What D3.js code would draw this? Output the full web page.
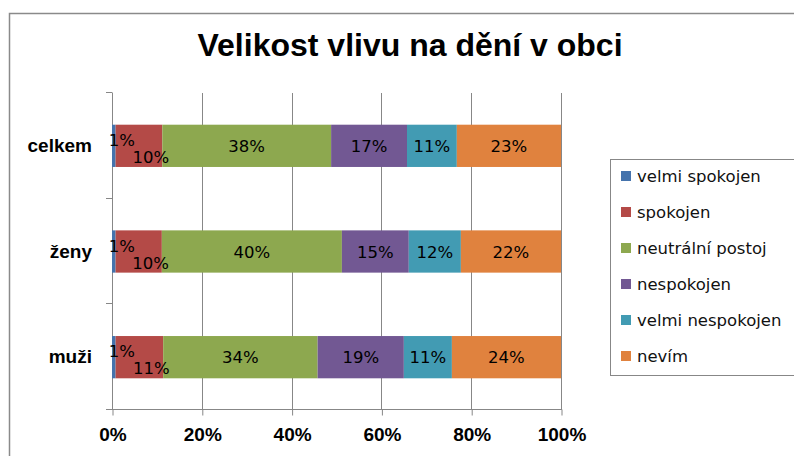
<!DOCTYPE html>
<html>
<head>
<meta charset="utf-8">
<script src="https://cdn.jsdelivr.net/npm/d3@7"></script>
<style>
  html, body { margin: 0; padding: 0; background: #ffffff; }
  svg { display: block; }
</style>
</head>
<body>
<svg id="chart" width="794" height="456"></svg>
<script>
// ---- data ----
const title = "Velikost vlivu na dění v obci";
const categories = ["celkem", "ženy", "muži"];
const seriesNames = ["velmi spokojen", "spokojen", "neutrální postoj", "nespokojen", "velmi nespokojen", "nevím"];
const velmiSpokojen   = [0.8, 0.8, 0.8];
const spokojen        = [10.4, 10.3, 10.6];
const neutralniPostoj = [37.6, 40.1, 34.4];
const nespokojen      = [16.9, 14.9, 19.2];
const velmiNespokojen = [11.1, 11.6, 10.7];
const nevim           = [23.2, 22.3, 24.3];
const tickValues = [0, 20, 40, 60, 80, 100];
const tickLabels = ["0%", "20%", "40%", "60%", "80%", "100%"];
const colors = ["#4573ac", "#b44a47", "#8da84f", "#725893", "#429bb3", "#e0823e"];

const seriesValues = [velmiSpokojen, spokojen, neutralniPostoj, nespokojen, velmiNespokojen, nevim];
const rows = categories.map((c, i) => {
  const r = { category: c };
  seriesNames.forEach((s, j) => { r[s] = seriesValues[j][i]; });
  return r;
});

// ---- layout ----
const svg = d3.select("#chart");
const plot = { left: 112, right: 561, top: 93, bottom: 410 };

const x = d3.scaleLinear().domain([0, 100]).range([plot.left, plot.right]);
const y = d3.scaleBand().domain(categories).range([plot.top, plot.bottom])
  .paddingInner(0.6).paddingOuter(0.3);

const gridColor = "#878787";

// outer chart border
svg.append("rect")
  .attr("x", 9.5).attr("y", 13.5).attr("width", 800).attr("height", 460)
  .attr("fill", "none").attr("stroke", "#8a8a8a").attr("stroke-width", 1.5);

// title
svg.append("text")
  .attr("x", 410).attr("y", 56)
  .attr("text-anchor", "middle")
  .attr("font-family", "'Liberation Sans', Arial, sans-serif")
  .attr("font-weight", "bold").attr("font-size", 32)
  .attr("fill", "#000")
  .text(title);

// vertical gridlines
svg.append("g").selectAll("line")
  .data(tickValues.slice(1))
  .join("line")
  .attr("x1", d => Math.round(x(d)) + 0.5).attr("x2", d => Math.round(x(d)) + 0.5)
  .attr("y1", plot.top).attr("y2", plot.bottom)
  .attr("stroke", gridColor).attr("stroke-width", 1);

// x axis
const xAxis = d3.axisBottom(x).tickValues(tickValues)
  .tickFormat((d, i) => tickLabels[i]).tickSize(6).tickSizeOuter(0).tickPadding(12);
const gx = svg.append("g").attr("transform", `translate(0.5,${plot.bottom - 0.5})`).call(xAxis);
gx.select(".domain").attr("stroke", gridColor).attr("d", `M${plot.left - 6.5},0H${plot.right}`);
gx.selectAll(".tick line").attr("stroke", gridColor);
gx.selectAll(".tick text")
  .attr("font-family", "'Liberation Sans', Arial, sans-serif")
  .attr("font-weight", "bold").attr("font-size", 19).attr("fill", "#000");

// y axis line + ticks at category boundaries
svg.append("line")
  .attr("x1", plot.left + 0.5).attr("x2", plot.left + 0.5)
  .attr("y1", plot.top).attr("y2", plot.bottom)
  .attr("stroke", gridColor);
const boundaries = [plot.top].concat(categories.map(c => y(c) + y.bandwidth() + y.step() * y.paddingInner() / 2));
boundaries[boundaries.length - 1] = plot.bottom;
svg.append("g").selectAll("line")
  .data(boundaries)
  .join("line")
  .attr("x1", plot.left - 6).attr("x2", plot.left + 0.5)
  .attr("y1", d => Math.round(d) - 0.5).attr("y2", d => Math.round(d) - 0.5)
  .attr("stroke", gridColor);

// category labels
svg.append("g").selectAll("text")
  .data(categories)
  .join("text")
  .attr("x", 92)
  .attr("y", d => y(d) + y.bandwidth() / 2 + 6)
  .attr("text-anchor", "end")
  .attr("font-family", "'Liberation Sans', Arial, sans-serif")
  .attr("font-weight", "bold").attr("font-size", 19).attr("fill", "#000")
  .text(d => d);

// stacked bars
const stack = d3.stack().keys(seriesNames);
const stacked = stack(rows);

const layers = svg.append("g").selectAll("g")
  .data(stacked)
  .join("g")
  .attr("fill", (d, i) => colors[i]);

layers.selectAll("rect")
  .data(d => d)
  .join("rect")
  .attr("x", d => x(d[0]))
  .attr("width", d => x(d[1]) - x(d[0]))
  .attr("y", d => y(d.data.category))
  .attr("height", y.bandwidth());

// data labels
const labelG = svg.append("g")
  .attr("font-family", "'DejaVu Sans', sans-serif")
  .attr("font-size", 16.5).attr("fill", "#000");

stacked.forEach((layer, li) => {
  layer.forEach(d => {
    const v = d[1] - d[0];
    const cx = (x(d[0]) + x(d[1])) / 2;
    const cy = y(d.data.category) + y.bandwidth() / 2;
    let dx = 0, dy = 0;
    if (li === 0) { dx = 8; dy = -6; }
    else if (li === 1) { dx = 12; dy = 11; }
    labelG.append("text")
      .attr("x", cx + dx)
      .attr("y", cy + dy + 6)
      .attr("text-anchor", "middle")
      .text(Math.round(v) + "%");
  });
});

// legend
const legend = svg.append("g");
legend.append("rect")
  .attr("x", 610.5).attr("y", 159.5).attr("width", 190).attr("height", 216)
  .attr("fill", "#fff").attr("stroke", gridColor);
const items = legend.selectAll("g.item")
  .data(seriesNames)
  .join("g")
  .attr("class", "item")
  .attr("transform", (d, i) => `translate(621, ${176.5 + i * 36})`);
items.append("rect")
  .attr("x", 0).attr("y", -5.5).attr("width", 10).attr("height", 10)
  .attr("fill", (d, i) => colors[i]);
items.append("text")
  .attr("x", 16).attr("y", 5.5)
  .attr("font-family", "'DejaVu Sans', sans-serif")
  .attr("font-size", 16.5).attr("fill", "#111")
  .text(d => d);
</script>
</body>
</html>
